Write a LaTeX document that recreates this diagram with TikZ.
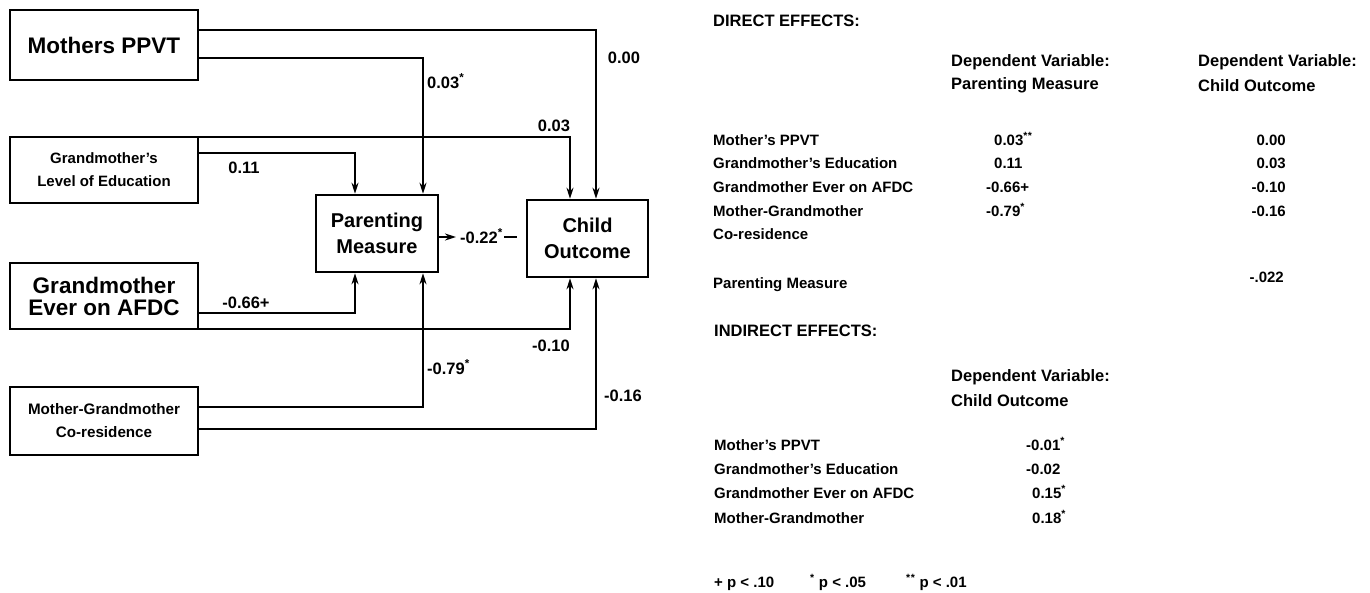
\documentclass[tikz,border=0pt]{standalone}
\usepackage{fontspec}
\setmainfont{Liberation Sans}
\usetikzlibrary{arrows.meta}
\tikzset{
  box/.style={draw, line width=2.5pt, align=center, inner sep=0pt, font=\bfseries},
  conn/.style={line width=2pt},
  arr/.style={conn, -{Stealth[length=11pt,width=7pt]}},
  lab/.style={font=\bfseries\fontsize{16.5}{18}\selectfont, inner sep=1pt, anchor=base},
  tx/.style={anchor=base west, font=\bfseries\fontsize{15}{16}\selectfont, inner sep=0pt},
  txe/.style={tx, anchor=base east},
  hd/.style={anchor=base west, font=\bfseries\fontsize{16.5}{17}\selectfont, inner sep=0pt},
}
\newcommand{\st}{\textsuperscript{*}}
\begin{document}
\begin{tikzpicture}[x=1pt,y=-1pt]
\useasboundingbox (0,0) rectangle (1370,592);
% boxes
\node[box, minimum width=188pt, minimum height=70pt, font=\bfseries\fontsize{22.5}{24}\selectfont] (ppvt) at (104,45) {Mothers PPVT};
\node[box, minimum width=188pt, minimum height=66pt, font=\bfseries\fontsize{15}{23}\selectfont] (edu) at (104,170) {Grandmother's\\Level of Education};
\node[box, minimum width=188pt, minimum height=66pt, font=\bfseries\fontsize{22.5}{22}\selectfont] (afdc) at (104,296) {Grandmother\\Ever on AFDC};
\node[box, minimum width=188pt, minimum height=68pt, font=\bfseries\fontsize{15.2}{23}\selectfont] (cores) at (104,421) {Mother-Grandmother\\Co-residence};
\node[box, minimum width=122pt, minimum height=77pt, font=\bfseries\fontsize{20}{26}\selectfont] (pm) at (377,233.5) {Parenting\\Measure};
\node[box, minimum width=121pt, minimum height=77pt, font=\bfseries\fontsize{20}{26}\selectfont] (co) at (587.5,238.5) {Child\\Outcome};
% connectors
\draw[arr] ([yshift=15pt]ppvt.east) -| ([xshift=8.5pt]co.north);
\draw[arr] ([yshift=-13pt]ppvt.east) -| ([xshift=46pt]pm.north);
\draw[arr] ([yshift=33pt]edu.east) -| ([xshift=-17.5pt]co.north);
\draw[arr] ([yshift=17pt]edu.east) -| ([xshift=-22pt]pm.north);
\draw[arr] ([yshift=-17pt]afdc.east) -| ([xshift=-22pt]pm.south);
\draw[arr] ([yshift=-33pt]afdc.east) -| ([xshift=-17.5pt]co.south);
\draw[arr] ([yshift=14pt]cores.east) -| ([xshift=46pt]pm.south);
\draw[arr] ([yshift=-8pt]cores.east) -| ([xshift=8.5pt]co.south);
% parenting -> child
\coordinate (m1) at (456,237);
\coordinate (m2) at (517,237);
\draw[arr] ([yshift=-3.5pt]pm.east) -- (m1);
\node[lab, anchor=base west] (l22) at (459,243) {-0.22\st};
\draw[conn] (l22.east |- m2) -- (m2);
% labels
\node[lab] (l1) at (624,63) {0.00};
\node[lab, anchor=base west] (l2) at (426,88) {0.03\st};
\node[lab] (l3) at (554,131) {0.03};
\node[lab] (l4) at (244,173) {0.11};
\node[lab] (l5) at (246,308) {-0.66+};
\node[lab] (l6) at (551,351) {-0.10};
\node[lab, anchor=base west] (l7) at (426,374) {-0.79\st};
\node[lab] (l8) at (623,401) {-0.16};
% right side: direct effects
\node[hd] (t1) at (713,26) {DIRECT EFFECTS:};
\node[hd] (h1) at (951,66) {Dependent Variable:};
\node[hd] (h2) at (951,89) {Parenting Measure};
\node[hd] (h3) at (1198,66) {Dependent Variable:};
\node[hd] (h4) at (1198,91) {Child Outcome};
\node[tx] (r1) at (713,145) {Mother's PPVT};
\node[tx] (r2) at (713,168) {Grandmother's Education};
\node[tx] (r3) at (713,192) {Grandmother Ever on AFDC};
\node[tx] (r4) at (713,216) {Mother-Grandmother};
\node[tx] (r5) at (713,239) {Co-residence};
\node[tx] (r6) at (713,288) {Parenting Measure};
\node[tx] (a1) at (994,145) {0.03\st\st};
\node[tx] (a2) at (994,168) {0.11};
\node[tx] (a3) at (986,192) {-0.66+};
\node[tx] (a4) at (986,216) {-0.79\st};
\node[txe] (b1) at (1286,145) {0.00};
\node[txe] (b2) at (1286,168) {0.03};
\node[txe] (b3) at (1286,192) {-0.10};
\node[txe] (b4) at (1286,216) {-0.16};
\node[txe] (b5) at (1284,282) {-.022};
% indirect effects
\node[hd] (t2) at (714,336) {INDIRECT EFFECTS:};
\node[hd] (h5) at (951,381) {Dependent Variable:};
\node[hd] (h6) at (951,406) {Child Outcome};
\node[tx] (s1) at (714,450) {Mother's PPVT};
\node[tx] (s2) at (714,474) {Grandmother's Education};
\node[tx] (s3) at (714,498) {Grandmother Ever on AFDC};
\node[tx] (s4) at (714,523) {Mother-Grandmother};
\node[tx] (c1) at (1026,450) {-0.01\st};
\node[tx] (c2) at (1026,474) {-0.02};
\node[tx] (c3) at (1032,498) {0.15\st};
\node[tx] (c4) at (1032,523) {0.18\st};
% footnote
\node[tx] (f1) at (714,587) {+ p < .10};
\node[tx] (f2) at (810,587) {\st\ p < .05};
\node[tx] (f3) at (906,587) {\st\st\ p < .01};
\end{tikzpicture}
\end{document}
